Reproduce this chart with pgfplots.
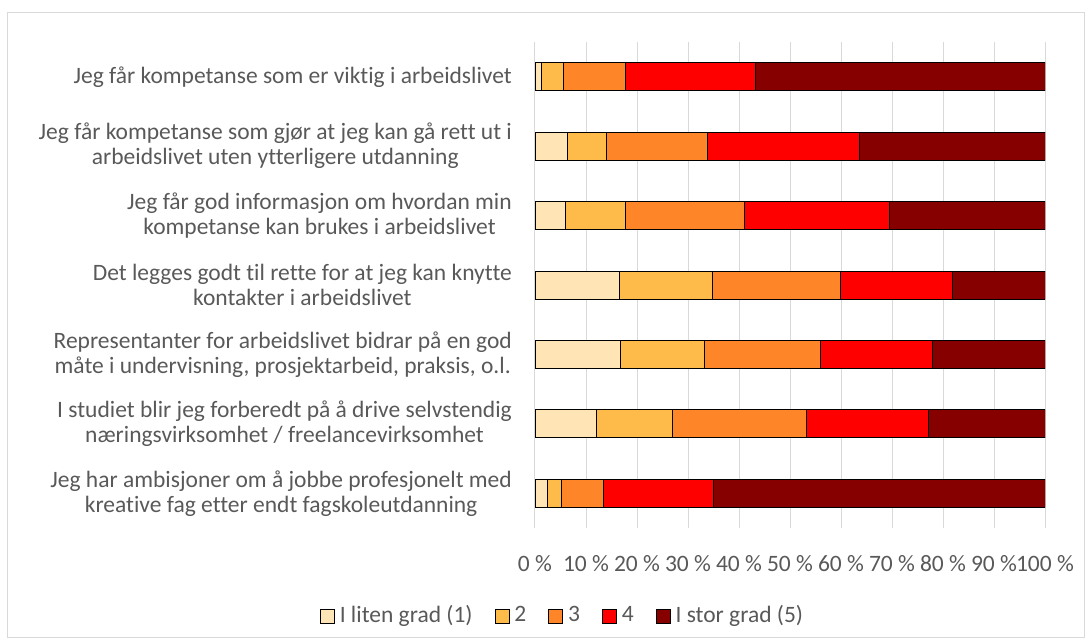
\documentclass[border=0pt]{standalone}
\usepackage{fontspec}
\setmainfont{Carlito}[Ligatures=NoCommon]
\usepackage{pgfplots}
\pgfplotsset{compat=1.18}

\definecolor{c1}{HTML}{FFE4B5}
\definecolor{c2}{HTML}{FFBB4A}
\definecolor{c3}{HTML}{FF8628}
\definecolor{c4}{HTML}{FF0000}
\definecolor{c5}{HTML}{860000}
\definecolor{txt}{HTML}{595959}
\definecolor{grd}{HTML}{D9D9D9}

\begin{document}
\fontsize{24}{25}\selectfont
\begin{tikzpicture}[x=1pt,y=1pt]
\useasboundingbox (0,0) rectangle (1090,-643);
\draw[grd, line width=1pt] (7.5,-12.5) rectangle (1084.5,-637.5);
\begin{axis}[
    at={(535pt,-528pt)}, anchor=south west,
    width=510pt, height=486pt, scale only axis,
    xbar stacked, bar width=28pt,
    xmin=0, xmax=100, ymin=0.5, ymax=7.5, y dir=reverse,
    ytick={1,...,7},
    yticklabels={
        {Jeg får kompetanse som er viktig i arbeidslivet},
        {Jeg får kompetanse som gjør at jeg kan gå rett ut i\\arbeidslivet uten ytterligere utdanning},
        {Jeg får god informasjon om hvordan min\\kompetanse kan brukes i arbeidslivet},
        {Det legges godt til rette for at jeg kan knytte\\kontakter i arbeidslivet},
        {Representanter for arbeidslivet bidrar på en god\\måte i undervisning, prosjektarbeid, praksis, o.l.},
        {I studiet blir jeg forberedt på å drive selvstendig\\næringsvirksomhet / freelancevirksomhet},
        {Jeg har ambisjoner om å jobbe profesjonelt med\\kreative fag etter endt fagskoleutdanning}},
    xtick={0,10,...,100},
    xticklabels={0 \%,10 \%,20 \%,30 \%,40 \%,50 \%,60 \%,70 \%,80 \%,90 \%,100 \%},
    xmajorgrids, grid style={grd, line width=1pt},
    axis line style={draw=none}, major tick length=0pt,
    tick label style={font=\fontsize{23.5}{25}\selectfont, text=txt},
    yticklabel style={align=center, anchor=east, inner sep=0pt, xshift=-23pt},
    xticklabel style={inner sep=0pt, yshift=-27pt},
    legend columns=-1,
    legend style={at={(0.052,-0.181)}, anchor=center, draw=none,
        font=\fontsize{23.5}{25}\selectfont, text=txt,
        nodes={inner sep=0pt},
        /tikz/every odd column/.append style={column sep=5pt},
        /tikz/every even column/.append style={column sep=22pt}},
    legend image code/.code={\draw[#1] (0pt,-7pt) rectangle (14pt,7pt);},
]
\addplot[fill=c1, draw=black, line width=0.8pt] coordinates {(1.2,1) (6.4,2) (6.0,3) (16.6,4) (16.8,5) (12.0,6) (2.5,7)};
\addplot[fill=c2, draw=black, line width=0.8pt] coordinates {(4.3,1) (7.6,2) (11.8,3) (18.2,4) (16.4,5) (14.9,6) (2.6,7)};
\addplot[fill=c3, draw=black, line width=0.8pt] coordinates {(12.3,1) (19.9,2) (23.2,3) (25.1,4) (22.7,5) (26.3,6) (8.4,7)};
\addplot[fill=c4, draw=black, line width=0.8pt] coordinates {(25.4,1) (29.7,2) (28.5,3) (21.9,4) (22.0,5) (24.0,6) (21.4,7)};
\addplot[fill=c5, draw=black, line width=0.8pt] coordinates {(56.8,1) (36.4,2) (30.5,3) (18.2,4) (22.1,5) (22.8,6) (65.1,7)};
\legend{I liten grad (1),2,3,4,I stor grad (5)}
\end{axis}
\end{tikzpicture}
\end{document}
